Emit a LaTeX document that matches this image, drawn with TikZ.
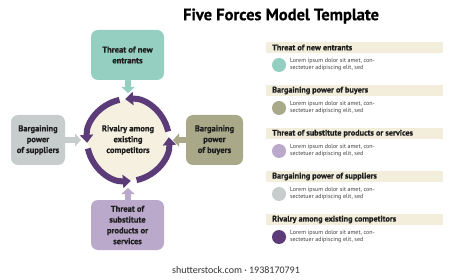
\documentclass[tikz,border=0pt]{standalone}
\usepackage{fontspec}
\setmainfont{PT Sans}
\newfontfamily\cf{PT Sans}
\newfontfamily\cfb[FakeBold=0.6]{PT Sans Bold}
\newfontfamily\wm{Carlito}
\usetikzlibrary{arrows.meta}
\definecolor{cteal}{HTML}{94CFC1}
\definecolor{cgrey}{HTML}{C7CDCC}
\definecolor{colive}{HTML}{A9A98A}
\definecolor{clav}{HTML}{BBA9CB}
\definecolor{cpurp}{HTML}{5C3C78}
\definecolor{cbar}{HTML}{F3EEDB}
\definecolor{cinner}{HTML}{F5F0E0}
\definecolor{ctext}{HTML}{1E1E1E}
\tikzset{
  force/.style={rounded corners=7pt, inner sep=0pt, align=center, text=ctext,
    font=\cfb\fontsize{8.5}{10.8}\selectfont},
  push/.style={line width=6pt, -{Triangle[width=13pt,length=6pt]}},
  ringarc/.style={cpurp, line width=6pt, -{Triangle[width=13pt,length=8pt]}},
  head/.style={anchor=west, inner sep=0pt, text=ctext,
    font=\cfb\fontsize{8.2}{10}\selectfont},
  dot/.style={circle, minimum size=14pt, inner sep=0pt},
  lorem/.style={anchor=west, inner sep=0pt, align=left, text=ctext!85,
    font=\cf\fontsize{6}{7.2}\selectfont},
}
\begin{document}
\begin{tikzpicture}[x=1pt,y=-1pt]
\useasboundingbox[fill=white] (0,0) rectangle (462,280);
% title
\node[inner sep=0pt, text=black, font=\cfb\fontsize{16.5}{19}\selectfont] (title) at (281,16) {Five Forces Model Template};
% centre
\coordinate (c) at (128,140);
\node[circle, fill=cinner, minimum size=80pt, inner sep=0pt] (rival) at (c) {};
\node[force, align=center] (rivaltext) at (c) {Rivalry among\\existing\\competitors};
\draw[ringarc] (c) ++(168:41) arc[start angle=168, end angle=86, radius=41];
\draw[ringarc] (c) ++(78:41) arc[start angle=78, end angle=-4, radius=41];
\draw[ringarc] (c) ++(-12:41) arc[start angle=-12, end angle=-94, radius=41];
\draw[ringarc] (c) ++(-102:41) arc[start angle=-102, end angle=-184, radius=41];
% boxes
\node[force, fill=cteal, minimum width=73pt, minimum height=50pt] (new) at (127.5,55) {Threat of new\\entrants};
\node[force, fill=cgrey, minimum width=54pt, minimum height=50pt] (sup) at (38,140) {Bargaining\\power\\of suppliers};
\node[force, fill=colive, minimum width=57pt, minimum height=50pt] (buy) at (214.5,140) {Bargaining\\power\\of buyers};
\node[force, fill=clav, minimum width=73pt, minimum height=50pt] (sub) at (127.5,225) {Threat of\\substitute\\products or\\services};
% push arrows
\coordinate (tn) at (128,93);
\coordinate (tw) at (81,140);
\coordinate (te) at (173,140);
\coordinate (ts) at (128,188);
\draw[push, cteal] (new.south -| tn) -- (tn);
\draw[push, cgrey] (sup.east) -- (tw);
\draw[push, colive] (buy.west) -- (te);
\draw[push, clav] (sub.north -| ts) -- (ts);
% legend
\foreach \i/\t/\col in {0/Threat of new entrants/cteal,1/Bargaining power of buyers/colive,2/Threat of substitute products or services/clav,3/Bargaining power of suppliers/cgrey,4/Rivalry among existing competitors/cpurp}{
  \fill[cbar] (266,42+43*\i) rectangle (443,53+43*\i);
  \node[head] (h\i) at (272,47.5+43*\i) {\t};
  \node[dot, fill=\col] (d\i) at (279,65+43*\i) {};
  \node[lorem] (l\i) at (290,64.5+43*\i) {Lorem ipsum dolor sit amet, con-\\sectetuer adipiscing elit, sed};
}
% watermark
\node[inner sep=0pt, text=black!80, font=\wm\fontsize{10}{12}\selectfont] (wm) at (236,270) {shutterstock.com · 1938170791};
\end{tikzpicture}
\end{document}
